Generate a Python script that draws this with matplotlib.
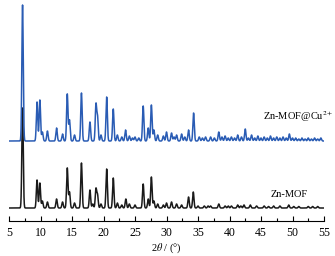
import numpy as np
import matplotlib
matplotlib.use("Agg")
import matplotlib.pyplot as plt
from matplotlib.ticker import MultipleLocator

# Peak lists (2theta in degrees, intensity in arbitrary units)
mof_pos = [7.15, 9.45, 9.9, 10.3, 11.1, 12.55, 13.5, 14.25, 14.6, 15.4, 16.5, 17.85, 18.3, 18.8, 19.05,
           19.6, 20.5, 21.55, 22.2, 22.9, 23.55, 24.1, 25.0, 26.3, 27.1, 27.6, 28.0, 28.6, 29.5, 30.0,
           30.8, 31.6, 32.4, 33.5, 34.25, 35.0, 36.0, 37.0, 38.3, 39.3, 40.3, 41.3, 42.3, 43.3, 44.3,
           45.5, 47.0, 48.0, 49.4, 51.0, 52.5, 54.0, 36.6, 39.8, 41.8, 46.2, 50.2, 53.2]
mof_int = [100, 28, 25, 7, 6, 9, 6, 40, 16, 5, 45, 18, 4, 19, 13,
           4, 39, 30, 5, 3, 9, 4, 3, 24, 9, 31, 7, 4, 3, 5,
           6, 4, 3, 11, 16, 2, 2, 2, 4, 2, 2, 3, 3, 3, 2,
           2, 2, 2, 3, 1.5, 1.5, 1.5, 2, 2, 2, 1.5, 1.5, 1.5]

cu_pos = [7.15, 9.45, 9.9, 10.3, 11.1, 12.55, 13.5, 14.25, 14.6, 15.4, 16.5, 17.85, 18.8, 19.05, 19.6,
          20.5, 21.55, 22.2, 22.9, 23.5, 24.1, 25.0, 26.3, 27.1, 27.6, 28.0, 28.6, 29.5, 30.0, 30.8,
          31.6, 32.4, 33.5, 34.3, 35.2, 36.2, 37.0, 38.3, 39.3, 40.3, 41.3, 42.5, 43.5, 44.5, 45.5,
          46.5, 47.5, 48.5, 49.5, 50.5, 51.5, 52.5, 53.5, 54.5, 35.7, 37.6, 38.8, 39.8, 40.8, 41.9,
          43.0, 44.0, 45.0, 46.0, 47.0, 48.0, 49.0, 50.0, 51.0, 52.0, 53.0, 54.0, 24.6, 25.6, 31.2, 32.9]
cu_int = [136, 39, 41, 9, 10, 13, 7, 47, 21, 6, 48, 19, 36, 24, 6,
          44, 32, 6, 4, 11, 5, 4, 35, 13, 36, 11, 6, 5, 9, 8,
          6, 7, 11, 28, 4, 4, 4, 9, 5, 4, 6, 12, 6, 5, 4,
          5, 4, 4, 7, 3, 3, 3, 3, 3, 3, 3, 4, 3, 3, 4,
          3, 3, 3, 3, 3, 3, 3, 3, 2, 2, 2, 2, 3, 3, 4, 4]

labels = ["Zn-MOF", "Zn-MOF@Cu$^{2+}$"]
offsets = [13, 80]
colors = ["#1a1a1a", "#2a5cb4"]
width = 0.11

x = np.linspace(5.0, 55.0, 5001)

def profile(pos, inten):
    y = np.zeros_like(x)
    for p, h in zip(pos, inten):
        y += h * np.exp(-0.5 * ((x - p) / width) ** 2)
    return y

plt.rcParams['mathtext.fontset'] = 'stix'
fig = plt.figure(figsize=(3.35, 2.56), dpi=100)
ax = fig.add_axes([9/335, 35/256, 315/335, 219/256])

y_mof = profile(mof_pos, mof_int) + offsets[0]
y_cu = profile(cu_pos, cu_int) + offsets[1]
ax.plot(x, y_mof, color=colors[0], lw=1.1)
ax.plot(x, y_cu, color=colors[1], lw=1.1)

font = dict(family="Liberation Serif", size=7.5)
ax.text(49.5, offsets[0] + 9, labels[0], ha="center", va="bottom", **font)
ax.text(51.0, offsets[1] + 17, labels[1], ha="center", va="bottom", **font)

ax.set_xlim(5, 55)
ax.set_ylim(0, 219)
for s in ["left", "right", "top"]:
    ax.spines[s].set_visible(False)
ax.spines["bottom"].set_linewidth(0.8)
ax.set_yticks([])
ax.xaxis.set_major_locator(MultipleLocator(5))
ax.xaxis.set_minor_locator(MultipleLocator(2.5))
ax.tick_params(axis="x", which="major", direction="in", length=3.5, width=0.8, pad=4)
ax.tick_params(axis="x", which="minor", direction="in", length=2, width=0.8)
for lab in ax.get_xticklabels():
    lab.set_fontfamily("Liberation Serif")
    lab.set_fontsize(8.5)
ax.set_xlabel(r"2$\theta$ / (°)", fontfamily="Liberation Serif", fontsize=7.5, labelpad=2)

fig.savefig("out.png", dpi=100)
